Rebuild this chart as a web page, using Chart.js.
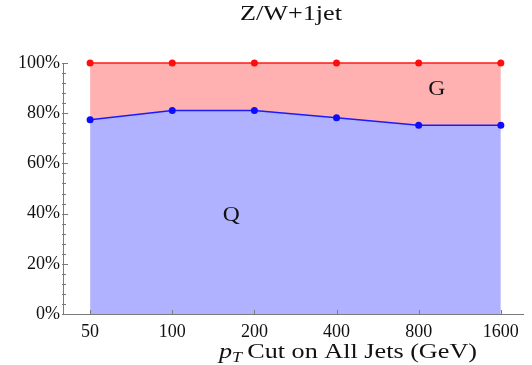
<!DOCTYPE html>
<html>
<head>
<meta charset="utf-8">
<script src="https://cdn.jsdelivr.net/npm/chart.js@4"></script>
<style>
  html, body { margin: 0; padding: 0; background: #fff; }
  #wrap { width: 532px; height: 365px; }
</style>
</head>
<body>
<div id="wrap"><canvas id="shareChart" width="532" height="365"></canvas></div>
<script>
// --- data ---
const jetCuts = ['50', '100', '200', '400', '800', '1600'];
const quarkShare = [77.4, 81.1, 81.1, 78.2, 75.2, 75.2];
const totalShare = [100, 100, 100, 100, 100, 100];
const yLabels = [0, 20, 40, 60, 80, 100];
const yMinorStep = 4;
const chartTitle = 'Z/W+1jet';

// region labels: [text, x index, y value]
const regionLabels = [['Q', 1.72, 40], ['G', 4.22, 90]];

const SERIF = "'Liberation Serif', 'DejaVu Serif', serif";
const AXIS = '#7a7a7a';
const XSTRETCH = 1.18; // the reference text is drawn a bit wide

// draws a run of [text, font, dy] pieces stretched horizontally into a given width
function drawRun(ctx, parts, left, baseline, width) {
    let natural = 0;
    parts.forEach(p => { ctx.font = p[1]; natural += ctx.measureText(p[0]).width; });
    const sx = width ? width / natural : XSTRETCH;
    ctx.save();
    ctx.translate(left, baseline);
    ctx.scale(sx, 1);
    let x = 0;
    parts.forEach(p => {
        ctx.font = p[1];
        ctx.fillText(p[0], x, p[2] || 0);
        x += ctx.measureText(p[0]).width;
    });
    ctx.restore();
}

// inward ticks (major/minor on y), title, x axis title and region labels
const extrasPlugin = {
    id: 'extras',
    afterDraw(chart) {
        const ctx = chart.ctx;
        const xs = chart.scales.x, ys = chart.scales.y;
        const area = chart.chartArea;
        ctx.save();
        ctx.strokeStyle = AXIS;
        ctx.lineWidth = 1;
        ctx.beginPath();
        for (let v = 0; v <= 100; v += yMinorStep) {
            const py = Math.round(ys.getPixelForValue(v)) + 0.5;
            const len = (v % 20 === 0) ? 5 : 3;
            ctx.moveTo(area.left - 1, py);
            ctx.lineTo(area.left + len, py);
        }
        jetCuts.forEach((_, i) => {
            const px = Math.round(xs.getPixelForValue(i)) + 0.5;
            ctx.moveTo(px, area.bottom);
            ctx.lineTo(px, area.bottom - 4);
        });
        ctx.stroke();

        ctx.fillStyle = '#111';
        ctx.textAlign = 'left';
        ctx.textBaseline = 'alphabetic';

        // title
        drawRun(ctx, [[chartTitle, '20px ' + SERIF]], 240, 20, 102);

        // region labels
        ctx.font = '20px ' + SERIF;
        regionLabels.forEach(([txt, xi, yv]) => {
            const w = ctx.measureText(txt).width * XSTRETCH;
            drawRun(ctx, [[txt, '20px ' + SERIF]], xs.getPixelForValue(xi) - w / 2, ys.getPixelForValue(yv) + 7);
        });

        // x axis title: p_T Cut on All Jets (GeV)
        drawRun(ctx, [
            ['p', 'italic 22px ' + SERIF],
            ['T', 'italic 15px ' + SERIF, 4],
            ['\u2009Cut on All Jets (GeV)', '22px ' + SERIF]
        ], 219, 358, 258);
        ctx.restore();
    }
};

const pts = arr => arr.map((v, i) => ({ x: i, y: v }));

const ctxShare = document.getElementById('shareChart').getContext('2d');
const shareChart = new Chart(ctxShare, {
    type: 'line',
    data: {
        datasets: [
            { label: 'Q', data: pts(quarkShare), borderColor: '#1a1aff', backgroundColor: '#b0b2ff', pointBackgroundColor: '#0c0cff', pointBorderWidth: 0, pointRadius: 3.5, borderWidth: 1.4, fill: 'origin', tension: 0, clip: false, order: 1 },
            { label: 'G', data: pts(totalShare), borderColor: '#ff1a1a', backgroundColor: '#ffb0b0', pointBackgroundColor: '#ff0c0c', pointBorderWidth: 0, pointRadius: 3.5, borderWidth: 1.4, fill: '-1', tension: 0, clip: false, order: 2 }
        ]
    },
    options: {
        responsive: false,
        animation: false,
        events: [],
        layout: { padding: { top: 63, right: 9, bottom: 0, left: 0 } },
        plugins: {
            legend: { display: false },
            tooltip: { enabled: false },
            title: { display: false }
        },
        scales: {
            x: {
                type: 'linear',
                min: -0.33,
                max: 5.27,
                afterBuildTicks: s => { s.ticks = jetCuts.map((_, i) => ({ value: i })); },
                afterFit: s => { s.height = 51; },
                grid: { display: false, drawTicks: false },
                border: { display: true, color: AXIS, width: 1 },
                ticks: { padding: 7, color: '#111', font: { family: SERIF, size: 18 }, callback: v => jetCuts[v], maxRotation: 0 }
            },
            y: {
                min: 0,
                max: 100,
                afterBuildTicks: s => { s.ticks = yLabels.map(v => ({ value: v })); },
                afterFit: s => { s.width = 63; },
                grid: { display: false, drawTicks: false },
                border: { display: true, color: AXIS, width: 1 },
                ticks: { padding: 3, color: '#111', font: { family: SERIF, size: 18 }, callback: v => v + '%' }
            }
        }
    },
    plugins: [extrasPlugin]
});
</script>
</body>
</html>
